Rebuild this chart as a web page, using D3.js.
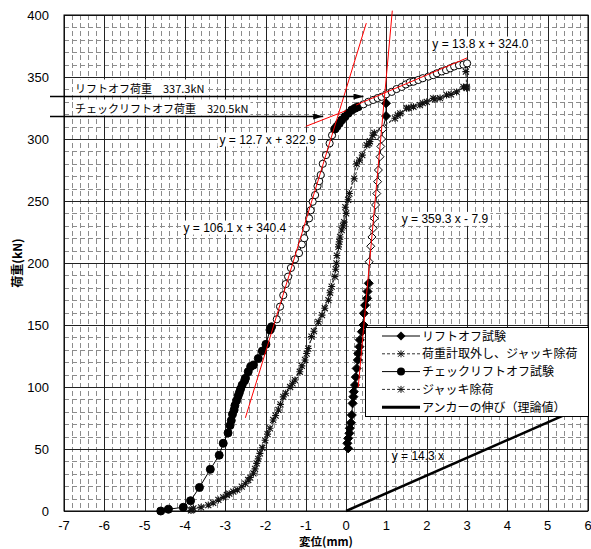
<!DOCTYPE html>
<html>
<head>
<meta charset="utf-8">
<script src="https://cdn.jsdelivr.net/npm/d3@7"></script>
<style>
body{margin:0;background:#fff}
text{font-family:"Liberation Sans",Arial,sans-serif}
.jp{font-family:"Noto Sans CJK JP","Noto Sans",sans-serif}
</style>
</head>
<body>
<div id="chart"></div>
<script>
const w = 591;
const h = 549;

// axis ticks
const xTicks = [-7,-6,-5,-4,-3,-2,-1,0,1,2,3,4,5,6];
const yTicks = [0,50,100,150,200,250,300,350,400];

// チェックリフトオフ試験 (circles): filled / hollow (fit range) parts
const checkLow = [[-4.6,0],[-4.41,1.4],[-4.04,3],[-3.86,8.3],[-3.64,19],[-3.37,33.6],[-3.15,45],[-3.05,54.6],
  [-2.93,63],[-2.88,69],[-2.85,73],[-2.82,78],[-2.78,81.5],[-2.76,85],[-2.72,89],[-2.68,92.7],[-2.65,95.4],
  [-2.62,98.4],[-2.58,101.6],[-2.52,105],[-2.5,107],[-2.43,112.3],[-2.37,116.4],[-2.3,117.7],[-2.18,123],
  [-2.08,129],[-1.99,134.4],[-1.89,146],[-1.85,148.6]];
const checkFit1 = [[-1.72,154.6],[-1.64,164.8],[-1.56,174],[-1.5,183],[-1.44,189],[-1.37,196],[-1.27,203],
  [-1.17,208],[-1.1,215],[-1.04,220],[-1.0,228],[-0.92,236],[-0.88,242.5],[-0.83,249.4],[-0.77,254.8],
  [-0.71,262],[-0.67,266],[-0.63,271],[-0.58,280],[-0.5,287],[-0.41,296.5],[-0.35,303]];
const checkMid = [[-0.28,308],[-0.23,310],[-0.17,312.6],[-0.11,315.3],[-0.03,318],[0.05,320.7],[0.14,323.4],
  [0.22,324.8],[0.3,326]];
const checkFit2 = [[0.43,328],[0.55,330],[0.67,331.5],[0.78,333],[0.88,334],[0.99,336],[1.13,338],[1.25,340.3],
  [1.38,342],[1.48,344],[1.58,345.7],[1.67,346.2],[1.79,347.6],[1.9,349],[2.04,350.3],[2.16,351.5],[2.25,353],
  [2.37,354.5],[2.48,355.6],[2.58,357],[2.68,358.5],[2.8,359.5],[2.91,360],[3.0,361]];

// リフトオフ試験 (diamonds)
const liftLow = [[0.05,50.5],[0.03,54.6],[0.05,58.6],[0.08,62.7],[0.09,66.7],[0.12,71.2],[0.14,77.4],
  [0.16,86.8],[0.18,92.2],[0.19,96.2],[0.22,101.6],[0.24,108],[0.26,115],[0.29,121.8],[0.3,127],
  [0.33,132.5],[0.34,138],[0.39,144.6],[0.43,150],[0.44,159.4],[0.47,166],[0.52,171.5],[0.53,177],[0.56,183.6]];
const liftFit = [[0.57,201],[0.61,213.5],[0.64,221],[0.67,228],[0.7,236],[0.73,246.8],[0.76,256],
  [0.78,265.6],[0.8,275],[0.84,285.7],[0.86,294],[0.88,300],[0.91,308]];
const liftTop = [[0.99,318.5],[0.99,328.8]];

// 荷重計取外し、ジャッキ除荷 (asterisks, dashed)
const unloadLift = [[2.99,341],[2.91,342],[2.74,338],[2.49,335.5],[2.33,333],[2.16,332.8],[2.0,330],
  [1.83,327.4],[1.67,326],[1.5,324.8],[1.34,320.7],[1.21,316.7],[0.66,303],[0.59,298],[0.51,295],
  [0.33,283],[0.26,280],[0.05,251],[0.0,240],[-0.05,233],[-0.11,226.6],[-0.15,221],[-0.19,213],
  [-0.23,206],[-0.24,199.7],[-0.28,189],[-0.36,181],[-0.44,170],[-0.53,163.5],[-0.69,152.6],[-0.86,140.6],
  [-0.94,131],[-1.02,121.8],[-1.15,112.3],[-1.27,105.6],[-1.39,100],[-1.56,92],[-1.68,81.5],[-1.81,73.4],
  [-1.89,66.7],[-2.01,57],[-2.14,46.5],[-2.22,38.4],[-2.3,30.4],[-2.43,25],[-2.59,19.6],[-2.8,15.6],
  [-2.96,12.9],[-3.17,8.9],[-3.42,4.8],[-3.79,2.2],[-3.85,0.5]];
// ジャッキ除荷 (asterisks, dashed)
const unloadCheck = [[3.0,360],[2.97,354.3],[2.99,342],[2.6,336],[2.2,332],[1.9,329],[1.55,325],[1.28,319],
  [0.7,305],[0.57,296.5],[0.4,287],[0.2,268],[0.08,256],[-0.02,245],[-0.08,230],[-0.17,217],[-0.26,195],
  [-0.4,176],[-0.6,158],[-0.8,145],[-0.98,127],[-1.1,117],[-1.33,103],[-1.5,95],[-1.63,86],[-1.75,77],
  [-1.95,62],[-2.08,51],[-2.18,42],[-2.26,34],[-2.38,27],[-2.5,22],[-2.7,17],[-2.9,14],[-3.05,11],
  [-3.3,6.5],[-3.6,3],[-3.82,1]];

// アンカーの伸び（理論値） y = 14.3x
const anchorSlope = 14.3;
const anchorRange = [0, 6];

// red fit lines: slope, intercept, x range
const fits = [
  {a:106.1, b:340.4, x0:-2.5, x1:0.5},
  {a:12.7, b:322.9, x0:-1.0, x1:0.0},
  {a:359.3, b:-7.9, x0:0.3, x1:1.145},
  {a:13.8, b:324.0, x0:0.25, x1:3.0}
];
const fitLabels = ["y = 106.1 x + 340.4","y = 12.7 x + 322.9","y = 359.3 x - 7.9","y = 13.8 x + 324.0"];
const fitLabelPos = [[-2.76,229],[-1.95,300],[2.45,236],[3.33,377.4]];

// lift-off loads
const loadLabels = ["リフトオフ荷重　337.3kN","チェックリフトオフ荷重　320.5kN"];
const loadLevels = [335, 318.5];
const arrowTips = [0.43, -0.57];

const legendNames = ["リフトオフ試験","荷重計取外し、ジャッキ除荷","チェックリフトオフ試験","ジャッキ除荷","アンカーの伸び（理論値）"];

var svg = d3.select("#chart").append("svg").attr("width",w).attr("height",h);

var x = d3.scaleLinear().domain([-7,6]).range([64,588]);
var y = d3.scaleLinear().domain([0,400]).range([511,15]);

// minor dashed grid
var grid = svg.append("g");
grid.selectAll(".vm").data(d3.range(-7,6,0.2).filter(v=>Math.abs(v-Math.round(v))>0.05))
  .enter().append("line")
  .attr("x1",d=>Math.round(x(d))+0.5).attr("x2",d=>Math.round(x(d))+0.5)
  .attr("y1",y(400)).attr("y2",y(0))
  .attr("stroke","#8c8c8c").attr("stroke-dasharray","5,3");
grid.selectAll(".hm").data(d3.range(10,400,10).filter(v=>v%50!==0))
  .enter().append("line")
  .attr("y1",d=>Math.round(y(d))+0.5).attr("y2",d=>Math.round(y(d))+0.5)
  .attr("x1",x(-7)).attr("x2",x(6))
  .attr("stroke","#8c8c8c").attr("stroke-dasharray","5,3");
// major grid
grid.selectAll(".vM").data(xTicks).enter().append("line")
  .attr("x1",d=>Math.round(x(d))+0.5).attr("x2",d=>Math.round(x(d))+0.5)
  .attr("y1",y(400)).attr("y2",y(0)).attr("stroke","#222");
grid.selectAll(".hM").data(yTicks).enter().append("line")
  .attr("y1",d=>Math.round(y(d))+0.5).attr("y2",d=>Math.round(y(d))+0.5)
  .attr("x1",x(-7)).attr("x2",x(6)).attr("stroke","#222");
svg.append("rect").attr("x",x(-7)).attr("y",y(400)).attr("width",x(6)-x(-7)).attr("height",y(0)-y(400))
  .attr("fill","none").attr("stroke","#000");

// tick labels
svg.append("g").selectAll("text").data(yTicks).enter().append("text")
  .attr("x",49).attr("y",d=>y(d)+5).attr("text-anchor","end")
  .attr("font-size",13).text(d=>d);
svg.append("g").selectAll("text").data(xTicks).enter().append("text")
  .attr("x",d=>x(d)).attr("y",529.5).attr("text-anchor","middle")
  .attr("font-size",13).text(d=>d);

svg.append("text").attr("class","jp").attr("x",326).attr("y",546).attr("text-anchor","middle")
  .attr("font-size",11.5).attr("font-weight","bold").text("変位(mm)");
svg.append("text").attr("class","jp").attr("transform","translate(22,263) rotate(-90)")
  .attr("text-anchor","middle").attr("font-size",12).attr("font-weight","bold").text("荷重(kN)");

// theoretical anchor elongation
svg.append("line")
  .attr("x1",x(anchorRange[0])).attr("y1",y(anchorSlope*anchorRange[0]))
  .attr("x2",x(anchorRange[1])).attr("y2",y(anchorSlope*anchorRange[1]))
  .attr("stroke","#000").attr("stroke-width",2.5);

var line = d3.line().x(d=>x(d[0])).y(d=>y(d[1]));

// series lines
svg.append("path").attr("d",line(unloadLift)).attr("fill","none").attr("stroke","#333").attr("stroke-dasharray","3,2");
svg.append("path").attr("d",line(unloadCheck)).attr("fill","none").attr("stroke","#333").attr("stroke-dasharray","3,2");
svg.append("path").attr("d",line(checkLow.concat(checkFit1,checkMid,checkFit2))).attr("fill","none").attr("stroke","#000");
svg.append("path").attr("d",line(liftLow.concat(liftFit,liftTop))).attr("fill","none").attr("stroke","#000");

var starPath = "M0,-3.5V3.5M-3,-3L3,3M-3,3L3,-3M-3.5,0H3.5";
var diamondPath = r => "M0,"+(-r)+"L"+r+",0L0,"+r+"L"+(-r)+",0Z";

function stars(data){
  svg.append("g").selectAll("path").data(data).enter().append("path")
    .attr("transform",d=>"translate("+x(d[0])+","+y(d[1])+")")
    .attr("d",starPath).attr("stroke","#111").attr("stroke-width",1.1).attr("fill","none");
}
function circles(data, filled){
  svg.append("g").selectAll("circle").data(data).enter().append("circle")
    .attr("cx",d=>x(d[0])).attr("cy",d=>y(d[1])).attr("r",filled?4:3.6)
    .attr("fill",filled?"#000":"#fff").attr("stroke","#000");
}
function diamonds(data, filled){
  svg.append("g").selectAll("path").data(data).enter().append("path")
    .attr("transform",d=>"translate("+x(d[0])+","+y(d[1])+")")
    .attr("d",diamondPath(filled?4.5:4))
    .attr("fill",filled?"#000":"#fff").attr("stroke","#000");
}
stars(unloadLift);
stars(unloadCheck);
diamonds(liftLow,true);
diamonds(liftFit,false);
diamonds(liftTop,true);
circles(checkLow,true);
circles(checkFit1,false);
circles(checkMid,true);
circles(checkFit2,false);

// red fit lines
svg.append("g").selectAll("line").data(fits).enter().append("line")
  .attr("x1",d=>x(d.x0)).attr("y1",d=>y(d.a*d.x0+d.b))
  .attr("x2",d=>x(d.x1)).attr("y2",d=>y(d.a*d.x1+d.b))
  .attr("stroke","#ff0000").attr("stroke-width",1);

function boxedText(tx, ty, str, anchor, cls, size){
  var g = svg.append("g");
  var t = g.append("text").attr("x",tx).attr("y",ty).attr("text-anchor",anchor)
    .attr("font-size",size).text(str);
  if(cls) t.attr("class",cls);
  var bb = t.node().getBBox();
  g.insert("rect","text").attr("x",bb.x-2).attr("y",bb.y).attr("width",bb.width+4).attr("height",bb.height)
    .attr("fill","#fff");
  return g;
}

fitLabels.forEach(function(s,i){
  boxedText(x(fitLabelPos[i][0]), y(fitLabelPos[i][1])+4.5, s, "middle", null, 12);
});
svg.append("text").attr("x",x(1.78)).attr("y",y(44.4)+4.5).attr("text-anchor","middle")
  .attr("font-size",12).text("y = "+anchorSlope+" x");

// lift-off load annotations
svg.append("defs").append("marker").attr("id","ah").attr("viewBox","0 0 10 6")
  .attr("refX",10).attr("refY",3).attr("markerWidth",10).attr("markerHeight",6)
  .attr("markerUnits","userSpaceOnUse").attr("orient","auto")
  .append("path").attr("d","M0,0L10,3L0,6Z").attr("fill","#000");
loadLabels.forEach(function(s,i){
  var ly = Math.round(y(loadLevels[i]))+0.5;
  boxedText(75, ly-4, s, "start", "jp", 11);
  svg.append("line").attr("x1",50).attr("x2",x(arrowTips[i])).attr("y1",ly).attr("y2",ly)
    .attr("stroke","#000").attr("stroke-width",1.3).attr("marker-end","url(#ah)");
});

// legend
var lg = svg.append("g");
lg.append("rect").attr("x",365.5).attr("y",327.5).attr("width",223).attr("height",89)
  .attr("fill","#fff").attr("stroke","#000");
legendNames.forEach(function(s,i){
  var ly = 336 + i*17.8;
  var ln = lg.append("line").attr("x1",382).attr("x2",420).attr("y1",ly).attr("y2",ly);
  if(i===1||i===3){
    ln.attr("stroke","#333").attr("stroke-dasharray","3,2");
    lg.append("path").attr("transform","translate(401,"+ly+")").attr("d",starPath)
      .attr("stroke","#111").attr("fill","none");
  } else if(i===4){
    ln.attr("stroke","#000").attr("stroke-width",3);
  } else {
    ln.attr("stroke","#000");
    if(i===0) lg.append("path").attr("transform","translate(401,"+ly+")").attr("d",diamondPath(4.5)).attr("fill","#000");
    else lg.append("circle").attr("cx",401).attr("cy",ly).attr("r",4).attr("fill","#000");
  }
  lg.append("text").attr("class","jp").attr("x",422).attr("y",ly+4.5).attr("font-size",12).text(s);
});
</script>
</body>
</html>
